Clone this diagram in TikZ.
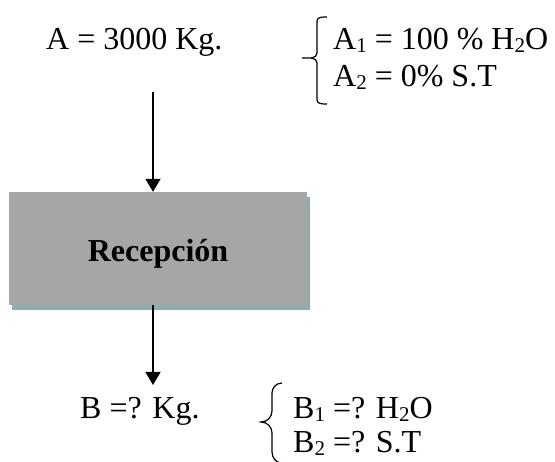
\documentclass[tikz,border=0pt]{standalone}
\usepackage{fontspec}
\setmainfont{Liberation Serif}
\usetikzlibrary{calc,positioning,arrows.meta,shadows}
\definecolor{boxgray}{HTML}{A6A6A6}
\definecolor{shadowblue}{HTML}{8FABB2}
\newcommand\subs[1]{\raisebox{-3pt}{\fontsize{21}{21}\selectfont #1}}

\begin{document}
\begin{tikzpicture}[x=1pt,y=-1pt,
  txt/.style={anchor=base west, inner sep=0pt, font=\fontsize{32}{38}\selectfont},
  proc/.style={fill=boxgray, minimum width=298pt, minimum height=113pt, inner sep=0pt,
    text height=27pt, text depth=0pt, font=\fontsize{32}{38}\selectfont\bfseries,
    drop shadow={shadow xshift=3pt, shadow yshift=-5pt, fill=shadowblue, opacity=1}},
  flow/.style={line width=1.5pt, -{Triangle[length=13pt,width=15pt]}},
  brace/.style={line width=1.2pt}]
\useasboundingbox (0,0) rectangle (555,462);
%\draw[help lines, step=50] (0,0) grid (555,462);

\node[txt] (A) at (46,50) {A = 3000 Kg.};
\node[txt] (A1) at (333,50) {A\subs{1} = 100 \% H\subs{2}O};
\node[txt] (A2) at (333,87) {A\subs{2} = 0\% S.T};

\node[proc] (rec) at (158,248.5) {Recepción};

\node[txt] (B) at (80,419) {B =? Kg.};
\node[txt] (B1) at (293,419) {B\subs{1} =? H\subs{2}O};
\node[txt] (B2) at (293,453) {B\subs{2} =? S.T};

\coordinate (in) at (153,92);
\coordinate (out) at (153,385);
\draw[flow] (in) -- (in |- rec.north);
\draw[flow] (rec.south -| out) -- (out);

\draw[brace] (327,17) to[out=180,in=90] (317,21) -- (317,53) to[out=-90,in=0] (302,58)
  to[out=0,in=90] (317,63) -- (317,100) to[out=-90,in=180] (327,104);
\draw[brace] (282,383) to[out=180,in=90] (272,393) -- (272,411) to[out=-90,in=0] (261,422)
  to[out=0,in=90] (272,433) -- (272,452) to[out=-90,in=180] (282,463);

\end{tikzpicture}
\end{document}
